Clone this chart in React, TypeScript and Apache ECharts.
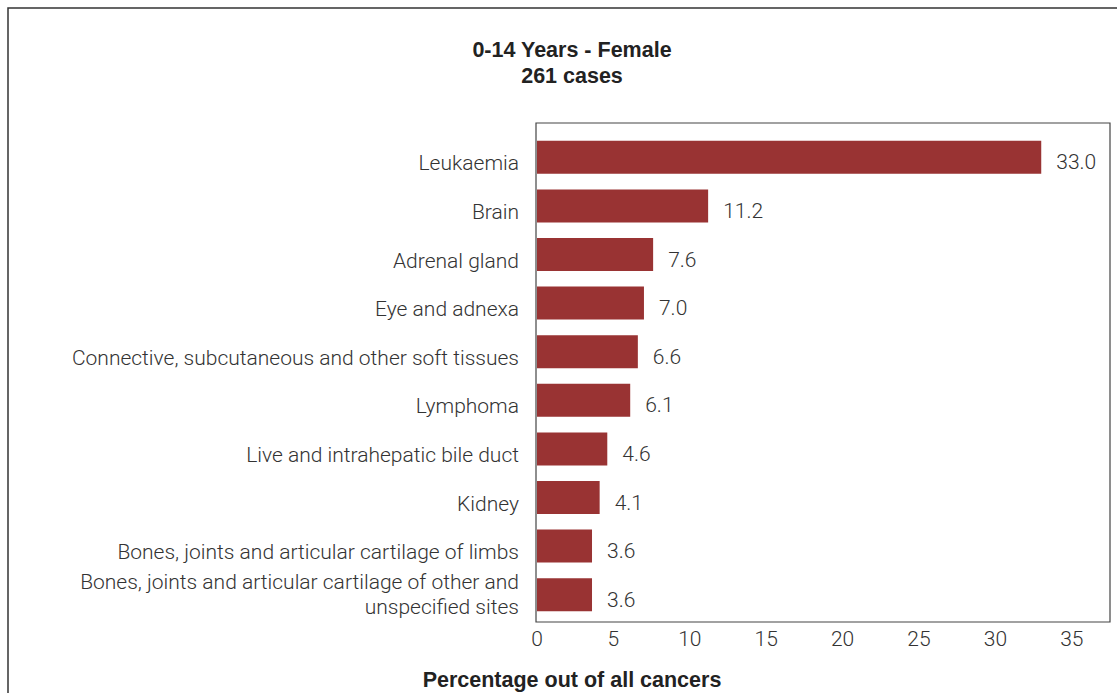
import React, { useEffect, useRef } from "react";
import * as echarts from "echarts";

const categories = [
  "Leukaemia",
  "Brain",
  "Adrenal gland",
  "Eye and adnexa",
  "Connective, subcutaneous and other soft tissues",
  "Lymphoma",
  "Live and intrahepatic bile duct",
  "Kidney",
  "Bones, joints and articular cartilage of limbs",
  "Bones, joints and articular cartilage of other and\nunspecified sites",
];
const values = [33.0, 11.2, 7.6, 7.0, 6.6, 6.1, 4.6, 4.1, 3.6, 3.6];
const titleLines = ["0-14 Years - Female", "261 cases"];
const xAxisTitle = "Percentage out of all cancers";

const FONT = "Roboto, 'Liberation Sans', sans-serif";
const BOLD = "bold 21.5px 'Liberation Sans', Arial, sans-serif";
const TXT = "#333333";
const BAR = "#993333";

export default function App() {
  const ref = useRef<HTMLDivElement>(null);
  useEffect(() => {
    if (!ref.current) return;
    const chart = echarts.init(ref.current, null, { renderer: "svg" });
    chart.setOption({
      animation: false,
      backgroundColor: "#ffffff",
      grid: { left: 537, right: 7, top: 133, bottom: 74, containLabel: false },
      xAxis: {
        type: "value",
        min: 0,
        max: 37.5,
        interval: 5,
        axisLine: { show: false },
        axisTick: { show: false },
        splitLine: { show: false },
        axisLabel: {
          color: TXT,
          fontSize: 21,
          fontFamily: FONT,
          fontWeight: 300,
          margin: 9,
          formatter: (v: number) => (v % 5 === 0 ? String(v) : ""),
        },
      },
      yAxis: {
        type: "category",
        inverse: true,
        data: categories,
        axisLine: { show: false },
        axisTick: { show: false },
        axisLabel: {
          color: TXT,
          fontSize: 21,
          fontFamily: FONT,
          fontWeight: 300,
          margin: 18,
          align: "right",
          formatter: (v: string) =>
            v.indexOf("\n") >= 0
              ? v
                  .split("\n")
                  .map((l) => `{m|${l}}`)
                  .join("\n")
              : `{s|${v}}`,
          rich: {
            s: {
              color: TXT,
              fontSize: 21,
              fontFamily: FONT,
              fontWeight: 300,
              padding: [12, 0, 0, 0],
            },
            m: {
              color: TXT,
              fontSize: 21,
              fontFamily: FONT,
              fontWeight: 300,
              lineHeight: 25,
            },
          },
        },
      },
      series: [
        {
          type: "bar",
          data: values,
          barWidth: 33,
          itemStyle: { color: BAR },
          label: {
            show: true,
            position: "right",
            distance: 15,
            offset: [0, 5],
            color: TXT,
            fontSize: 21,
            fontFamily: FONT,
            fontWeight: 300,
            formatter: (p: any) => Number(p.value).toFixed(1),
          },
        },
      ],
      graphic: [
        {
          type: "rect",
          silent: true,
          shape: { x: 8, y: 8, width: 1300, height: 900 },
          style: { fill: "none", stroke: "#333333", lineWidth: 1.5 },
        },
        {
          type: "rect",
          silent: true,
          shape: { x: 536, y: 123, width: 574, height: 499 },
          style: { fill: "none", stroke: "#444444", lineWidth: 1.2 },
        },
        {
          type: "text",
          x: 572,
          y: 50,
          style: {
            text: titleLines[0],
            align: "center",
            verticalAlign: "middle",
            fill: "#222222",
            font: BOLD,
          },
        },
        {
          type: "text",
          x: 572,
          y: 76,
          style: {
            text: titleLines[1],
            align: "center",
            verticalAlign: "middle",
            fill: "#222222",
            font: BOLD,
          },
        },
        {
          type: "text",
          x: 572,
          y: 680,
          style: {
            text: xAxisTitle,
            align: "center",
            verticalAlign: "middle",
            fill: "#222222",
            font: BOLD,
          },
        },
      ],
    });
    return () => chart.dispose();
  }, []);
  return (
    <div
      ref={ref}
      style={{ position: "fixed", left: 0, top: 0, width: 1117, height: 693 }}
    />
  );
}
